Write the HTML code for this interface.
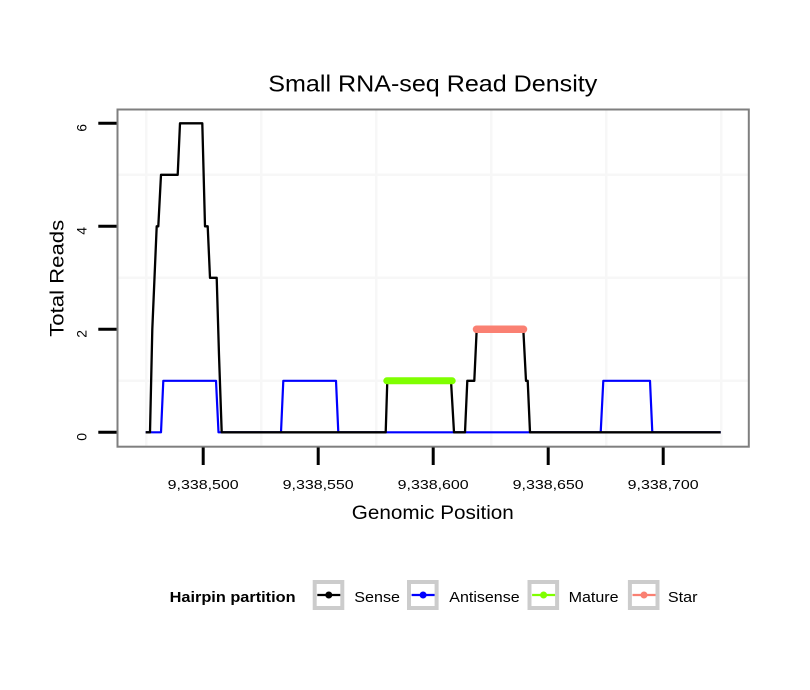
<!DOCTYPE html>
<html>
<head>
<meta charset="utf-8">
<style>
  html, body { margin: 0; padding: 0; background: #ffffff; }
  svg { display: block; }
  text { font-family: "Liberation Sans", Arial, sans-serif; fill: #000; }
</style>
</head>
<body>
<svg width="810" height="690" viewBox="0 0 810 690" xmlns="http://www.w3.org/2000/svg">
  <rect x="0" y="0" width="810" height="690" fill="#ffffff"/>

  <!-- Title -->
  <text x="432.8" y="91.7" font-size="23" text-anchor="middle" textLength="329" lengthAdjust="spacingAndGlyphs">Small RNA-seq Read Density</text>

  <!-- Panel background -->
  <rect x="117.5" y="109.5" width="631.3" height="337.2" fill="#ffffff"/>

  <!-- Minor grid lines -->
  <g stroke="#f7f7f7" stroke-width="2.5">
    <line x1="146.3" y1="110.5" x2="146.3" y2="445.7"/>
    <line x1="261.3" y1="110.5" x2="261.3" y2="445.7"/>
    <line x1="376.3" y1="110.5" x2="376.3" y2="445.7"/>
    <line x1="491.3" y1="110.5" x2="491.3" y2="445.7"/>
    <line x1="606.3" y1="110.5" x2="606.3" y2="445.7"/>
    <line x1="721.3" y1="110.5" x2="721.3" y2="445.7"/>
    <line x1="118.5" y1="380.8" x2="747.8" y2="380.8"/>
    <line x1="118.5" y1="277.8" x2="747.8" y2="277.8"/>
    <line x1="118.5" y1="174.8" x2="747.8" y2="174.8"/>
  </g>

  <!-- Antisense (blue) -->
  <polyline fill="none" stroke="#0000ff" stroke-width="2.2" stroke-linejoin="round"
    points="145.7,432.3 161,432.3 163.3,380.8 216,380.8 218.5,432.3 281,432.3 283.3,380.8 336,380.8 338.3,432.3 600.7,432.3 603.3,380.8 650,380.8 652.3,432.3 720.7,432.3"/>

  <!-- Sense (black) -->
  <polyline fill="none" stroke="#000000" stroke-width="2.3" stroke-linejoin="round"
    points="145.7,432.3 150,432.3 152.3,329.3 154.5,277.8 156.7,226.3 158.3,226.3 161,174.8 177.7,174.8 180,123.3 202.3,123.3 205,226.3 207.7,226.3 210,277.8 216.7,277.8 219,355 221.7,432.3 385.7,432.3 387.3,380.8 451,380.8 454,432.3 465,432.3 467.3,380.8 474.3,380.8 476.7,329.3 523.3,329.3 526,380.8 527.7,380.8 530,432.3 720.7,432.3"/>

  <!-- Mature (green) -->
  <line x1="386.8" y1="380.8" x2="452.2" y2="380.8" stroke="#7fff00" stroke-width="7" stroke-linecap="round"/>
  <!-- Star (salmon) -->
  <line x1="476.5" y1="329.3" x2="523.5" y2="329.3" stroke="#fa8072" stroke-width="7.5" stroke-linecap="round"/>

  <!-- Panel border -->
  <rect x="117.5" y="109.5" width="631.3" height="337.2" fill="none" stroke="#7f7f7f" stroke-width="2"/>

  <!-- Y ticks -->
  <g stroke="#000" stroke-width="3">
    <line x1="98.3" y1="432.3" x2="116.5" y2="432.3"/>
    <line x1="98.3" y1="329.3" x2="116.5" y2="329.3"/>
    <line x1="98.3" y1="226.3" x2="116.5" y2="226.3"/>
    <line x1="98.3" y1="123.3" x2="116.5" y2="123.3"/>
  </g>
  <!-- Y tick labels -->
  <g font-size="14" text-anchor="middle">
    <text transform="translate(86.5,436.8) rotate(-90)">0</text>
    <text transform="translate(86.5,333.8) rotate(-90)">2</text>
    <text transform="translate(86.5,230.8) rotate(-90)">4</text>
    <text transform="translate(86.5,127.8) rotate(-90)">6</text>
  </g>

  <!-- X ticks -->
  <g stroke="#000" stroke-width="3">
    <line x1="203.2" y1="447.5" x2="203.2" y2="465"/>
    <line x1="318.2" y1="447.5" x2="318.2" y2="465"/>
    <line x1="433.2" y1="447.5" x2="433.2" y2="465"/>
    <line x1="548.2" y1="447.5" x2="548.2" y2="465"/>
    <line x1="663.2" y1="447.5" x2="663.2" y2="465"/>
  </g>
  <!-- X tick labels -->
  <g font-size="12.5" text-anchor="middle">
    <text x="203.2" y="489" textLength="71" lengthAdjust="spacingAndGlyphs">9,338,500</text>
    <text x="318.2" y="489" textLength="71" lengthAdjust="spacingAndGlyphs">9,338,550</text>
    <text x="433.2" y="489" textLength="71" lengthAdjust="spacingAndGlyphs">9,338,600</text>
    <text x="548.2" y="489" textLength="71" lengthAdjust="spacingAndGlyphs">9,338,650</text>
    <text x="663.2" y="489" textLength="71" lengthAdjust="spacingAndGlyphs">9,338,700</text>
  </g>

  <!-- Axis titles -->
  <text x="432.8" y="519" font-size="19" text-anchor="middle" textLength="162" lengthAdjust="spacingAndGlyphs">Genomic Position</text>
  <text transform="translate(63.3,278.3) rotate(-90)" font-size="19" text-anchor="middle" textLength="117" lengthAdjust="spacingAndGlyphs">Total Reads</text>

  <!-- Legend -->
  <text x="169.6" y="601.8" font-size="14.5" font-weight="bold" textLength="126" lengthAdjust="spacingAndGlyphs">Hairpin partition</text>

  <g fill="#ffffff" stroke="#cccccc" stroke-width="4">
    <rect x="314.7" y="582" width="27.6" height="26"/>
    <rect x="409" y="582" width="27.6" height="26"/>
    <rect x="529.5" y="582" width="27.6" height="26"/>
    <rect x="629.9" y="582" width="27.6" height="26"/>
  </g>

  <!-- Legend keys -->
  <line x1="317.3" y1="595" x2="340.3" y2="595" stroke="#000" stroke-width="2.2"/>
  <circle cx="328.8" cy="595" r="3.5" fill="#000"/>
  <line x1="411.6" y1="595" x2="434.6" y2="595" stroke="#0000ff" stroke-width="2.2"/>
  <circle cx="423.1" cy="595" r="3.5" fill="#0000ff"/>
  <line x1="532.1" y1="595" x2="555.1" y2="595" stroke="#7fff00" stroke-width="2.2"/>
  <circle cx="543.6" cy="595" r="3.5" fill="#7fff00"/>
  <line x1="632.5" y1="595" x2="655.5" y2="595" stroke="#fa8072" stroke-width="2.2"/>
  <circle cx="644" cy="595" r="3.5" fill="#fa8072"/>

  <g font-size="15">
    <text x="354.3" y="601.8" textLength="45.7" lengthAdjust="spacingAndGlyphs">Sense</text>
    <text x="449.3" y="601.8" textLength="70.3" lengthAdjust="spacingAndGlyphs">Antisense</text>
    <text x="568.6" y="601.8" textLength="50" lengthAdjust="spacingAndGlyphs">Mature</text>
    <text x="667.9" y="601.8" textLength="29.6" lengthAdjust="spacingAndGlyphs">Star</text>
  </g>
</svg>
</body>
</html>
